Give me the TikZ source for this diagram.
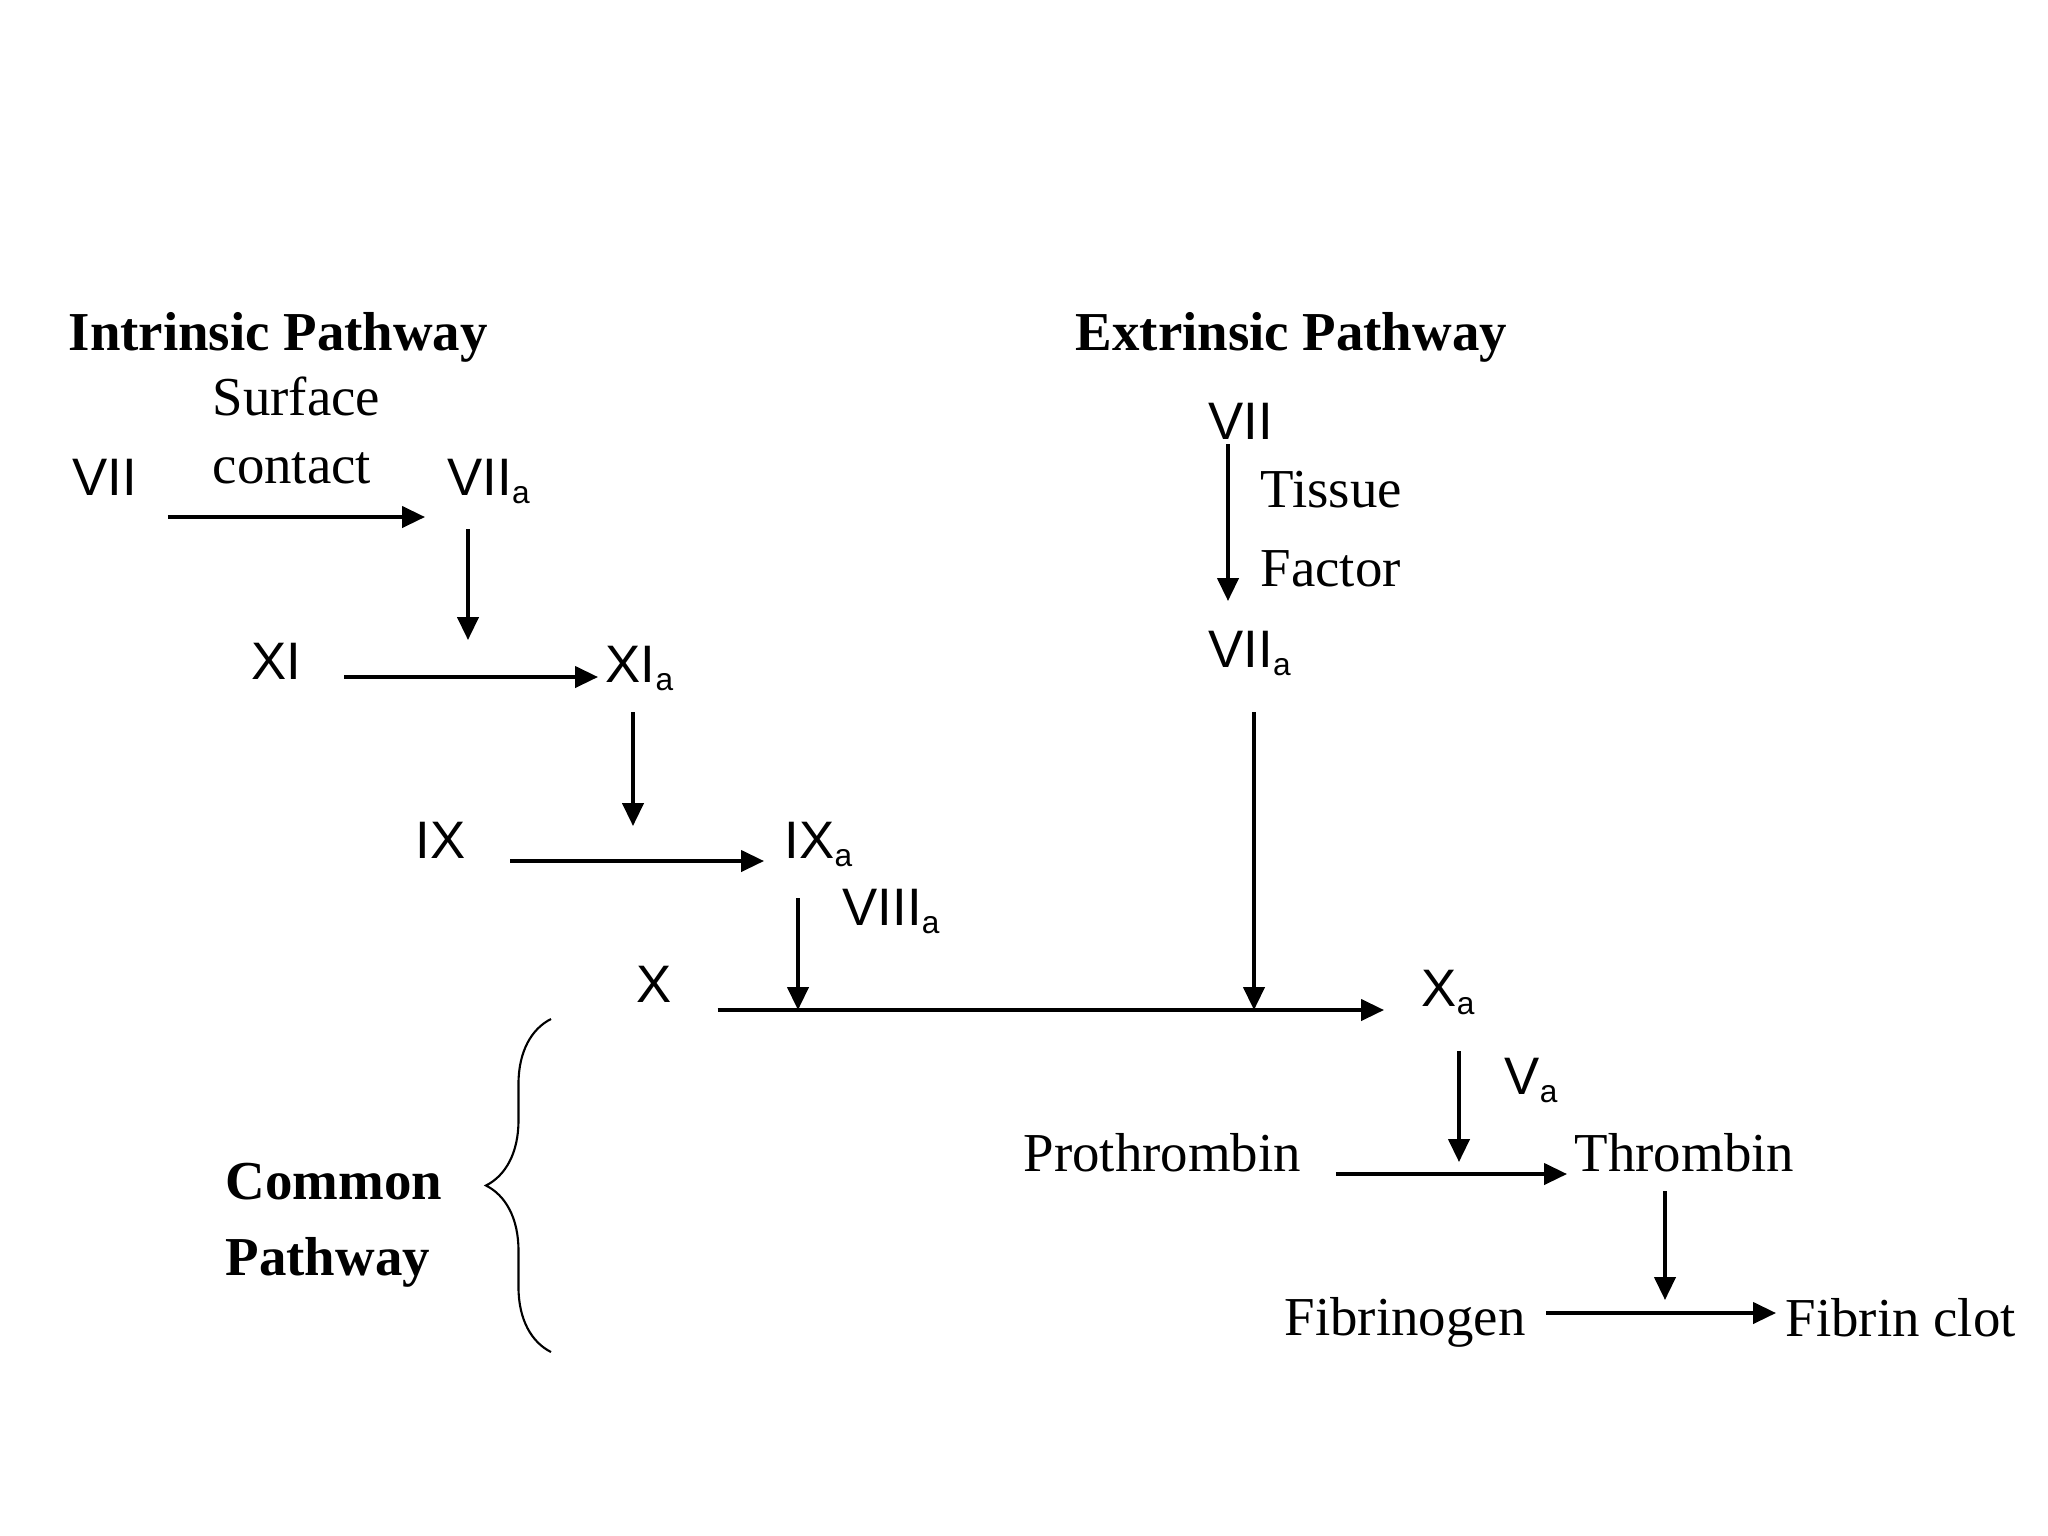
\documentclass[tikz,border=0pt]{standalone}
\usepackage{fontspec}
\setmainfont{Liberation Serif}
\setsansfont{Liberation Sans}
\usepackage{tikz}
\usetikzlibrary{arrows.meta,decorations.pathreplacing}
\newcommand{\actf}[1]{#1\raisebox{-2.5pt}{\fontsize{9}{10}\selectfont a}}

\begin{document}
\begin{tikzpicture}[
  x=0.01cm, y=-0.01cm,
  fac/.style={font=\sffamily\fontsize{15}{18}\selectfont, inner sep=0pt, anchor=base west},
  word/.style={font=\fontsize{15.6}{19}\selectfont, inner sep=0pt, anchor=base west},
  heading/.style={font=\bfseries\fontsize{15.6}{19}\selectfont, inner sep=0pt, anchor=base west},
  arr/.style={-{Triangle[length=6.5pt,width=6pt]}, line width=1pt},
]
\useasboundingbox (0,0) rectangle (2048,1536);

% Intrinsic pathway
\node[heading] (intr) at (68,350) {Intrinsic Pathway};
\node[word] (surf) at (212,415) {Surface};
\node[word] (cont) at (212,483) {contact};
\node[fac] (vii) at (72,495) {VII};
\node[fac] (viia) at (447,495) {\actf{VII}};
\node[fac] (xi) at (251,679) {XI};
\node[fac] (xia) at (605,682) {\actf{XI}};
\node[fac] (ix) at (415,858) {IX};
\node[fac] (ixa) at (784,858) {\actf{IX}};
\node[fac] (viiia) at (842,925) {\actf{VIII}};

% Extrinsic pathway
\node[heading] (extr) at (1075,350) {Extrinsic Pathway};
\node[fac] (evii) at (1208,439) {VII};
\node[word] (tiss) at (1260,507) {Tissue};
\node[word] (fact) at (1260,586) {Factor};
\node[fac] (eviia) at (1208,667) {\actf{VII}};

% Common pathway
\node[fac] (x) at (636,1002) {X};
\node[fac] (xa) at (1421,1006) {\actf{X}};
\node[fac] (va) at (1504,1094) {\actf{V}};
\node[word] (proth) at (1023,1171) {Prothrombin};
\node[word] (thromb) at (1574,1171) {Thrombin};
\node[word] (fibg) at (1284,1335) {Fibrinogen};
\node[word] (fibc) at (1785,1336) {Fibrin clot};
\node[heading] (comm) at (225,1199) {Common};
\node[heading] (commb) at (225,1275) {Pathway};

% Arrows
\draw[arr] ([shift={(30,22)}]vii.base east) -- ([shift={(-22,22)}]viia.base west);
\draw[arr] ([shift={(21,34)}]viia.base west) -- ([shift={(21,145)}]viia.base west);
\draw[arr] ([shift={(42,-2)}]xi.base east) -- ([shift={(-7,-5)}]xia.base west);
\draw[arr] ([shift={(28,30)}]xia.base west) -- ([shift={(28,144)}]xia.base west);
\draw[arr] ([shift={(44,3)}]ix.base east) -- ([shift={(-20,3)}]ixa.base west);
\draw[arr] ([shift={(14,40)}]ixa.base west) -- ([shift={(14,152)}]ixa.base west);
\draw[arr] ([shift={(20,5)}]evii.base west) -- ([shift={(20,-66)}]eviia.base west);
\draw[arr] ([shift={(46,45)}]eviia.base west) -- ([shift={(46,343)}]eviia.base west);
\draw[arr] ([shift={(45,8)}]x.base east) -- ([shift={(-37,4)}]xa.base west);
\draw[arr] ([shift={(38,45)}]xa.base west) -- ([shift={(38,156)}]xa.base west);
\draw[arr] ([shift={(34,3)}]proth.base east) -- ([shift={(-7,3)}]thromb.base west);
\draw[arr] ([shift={(91,20)}]thromb.base west) -- ([shift={(91,129)}]thromb.base west);
\draw[arr] ([shift={(20,-22)}]fibg.base east) -- ([shift={(-9,-23)}]fibc.base west);

% Brace
\coordinate (btop) at (551,1019);
\coordinate (bbot) at (551,1352);
\draw[line width=0.6pt, decorate, decoration={brace, amplitude=0.65cm, aspect=0.5}] (bbot) -- (btop);

\end{tikzpicture}
\end{document}
